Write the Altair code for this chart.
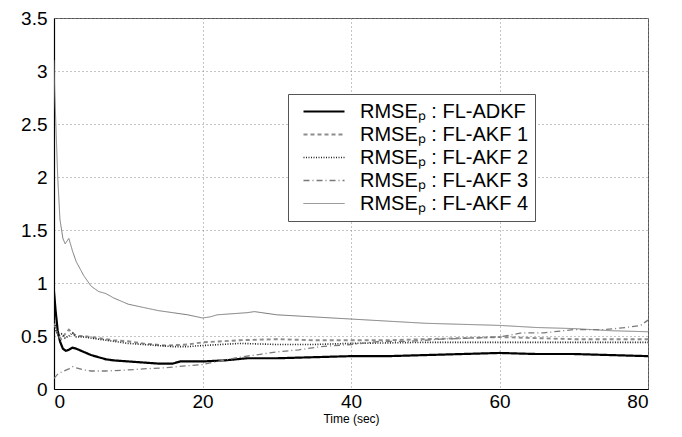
import altair as alt
import pandas as pd

series_names = ["RMSEₚ : FL-ADKF", "RMSEₚ : FL-AKF 1", "RMSEₚ : FL-AKF 2",
                "RMSEₚ : FL-AKF 3", "RMSEₚ : FL-AKF 4"]

t_adkf = [0, 0.2, 0.5, 0.8, 1.2, 1.6, 2.0, 2.5, 3, 4, 5, 6, 7, 8, 10, 12, 14, 16, 17, 18,
          20, 23, 26, 30, 35, 40, 45, 50, 55, 60, 65, 70, 75, 80]
v_adkf = [0.92, 0.75, 0.55, 0.45, 0.38, 0.36, 0.37, 0.39, 0.38, 0.35, 0.32, 0.30, 0.28, 0.27,
          0.26, 0.25, 0.24, 0.24, 0.26, 0.26, 0.26, 0.27, 0.29, 0.29, 0.30, 0.31, 0.31, 0.32,
          0.33, 0.34, 0.33, 0.33, 0.32, 0.31]

t_akf1 = [0, 0.3, 0.6, 1, 1.5, 2, 2.5, 3, 4, 5, 6, 8, 10, 12, 15, 18, 20, 25, 30, 35, 40,
          45, 50, 55, 60, 65, 70, 75, 80]
v_akf1 = [0.62, 0.55, 0.50, 0.47, 0.52, 0.56, 0.53, 0.50, 0.50, 0.49, 0.48, 0.46, 0.45, 0.43,
          0.41, 0.42, 0.44, 0.46, 0.47, 0.46, 0.46, 0.46, 0.47, 0.48, 0.49, 0.48, 0.47, 0.47, 0.47]

t_akf2 = [0, 0.3, 0.6, 1, 1.5, 2, 2.5, 3, 4, 5, 6, 8, 10, 12, 14, 16, 18, 20, 25, 30, 35,
          40, 50, 60, 70, 80]
v_akf2 = [0.65, 0.55, 0.50, 0.52, 0.48, 0.50, 0.53, 0.49, 0.49, 0.48, 0.47, 0.45, 0.43, 0.42,
          0.41, 0.40, 0.40, 0.41, 0.43, 0.42, 0.42, 0.43, 0.44, 0.44, 0.44, 0.44]

t_akf3 = [0, 0.5, 1, 2, 2.5, 3, 4, 5, 7, 10, 12, 15, 18, 20, 22, 25, 28, 30, 33, 36, 40, 44,
          48, 52, 56, 60, 63, 66, 70, 74, 77, 79, 80]
v_akf3 = [0.10, 0.14, 0.16, 0.19, 0.21, 0.20, 0.18, 0.17, 0.17, 0.18, 0.19, 0.20, 0.22, 0.23,
          0.26, 0.30, 0.33, 0.35, 0.37, 0.40, 0.42, 0.45, 0.45, 0.47, 0.48, 0.49, 0.53, 0.53,
          0.56, 0.56, 0.58, 0.60, 0.65]

t_akf4 = [0, 0.1, 0.3, 0.5, 0.8, 1.2, 1.5, 2.0, 2.5, 3, 4, 5, 6, 7, 8, 9, 10, 12, 14, 16, 18,
          20, 21, 22, 24, 26, 27, 28, 30, 35, 40, 45, 50, 55, 60, 65, 70, 75, 80]
v_akf4 = [3.10, 2.80, 2.40, 2.00, 1.60, 1.42, 1.37, 1.42, 1.30, 1.20, 1.07, 0.97, 0.92, 0.90,
          0.86, 0.83, 0.80, 0.77, 0.74, 0.72, 0.70, 0.67, 0.68, 0.70, 0.71, 0.72, 0.73, 0.72,
          0.70, 0.68, 0.66, 0.64, 0.62, 0.61, 0.60, 0.58, 0.57, 0.55, 0.54]

x_ticks = [0, 20, 40, 60, 80]
y_ticks = [0, 0.5, 1, 1.5, 2, 2.5, 3, 3.5]

rows = []
for name, ts, vs in zip(series_names,
                        [t_adkf, t_akf1, t_akf2, t_akf3, t_akf4],
                        [v_adkf, v_akf1, v_akf2, v_akf3, v_akf4]):
    for i, (t, v) in enumerate(zip(ts, vs)):
        rows.append({"series": name, "t": t, "v": v, "i": i})
df = pd.DataFrame(rows)

colors = ["#000000", "#8c8c8c", "#222222", "#7a7a7a", "#7a7a7a"]
dashes = [[1, 0], [4, 3], [1, 1.5], [6, 3, 1, 3], [1, 0]]
widths = [2.2, 1, 1.3, 1, 1]

FONT = "Liberation Sans"

leg = alt.Legend(orient="none", legendX=234, legendY=76, title=None,
                 strokeColor="#555555", fillColor="white", padding=6,
                 symbolType="stroke", symbolSize=1681, symbolOffset=8,
                 clipHeight=23, rowPadding=0, labelOffset=14,
                 labelFont=FONT, labelFontSize=20, labelColor="black",
                 labelLimit=320)

chart = alt.Chart(df).mark_line(clip=True).encode(
    x=alt.X("t:Q", scale=alt.Scale(domain=[0, 80], nice=False),
            axis=alt.Axis(values=x_ticks, title="Time (sec)", format="d")),
    y=alt.Y("v:Q", scale=alt.Scale(domain=[0, 3.5], nice=False),
            axis=alt.Axis(values=y_ticks, title=None, format="~g")),
    color=alt.Color("series:N", scale=alt.Scale(domain=series_names, range=colors), legend=leg),
    strokeDash=alt.StrokeDash("series:N", scale=alt.Scale(domain=series_names, range=dashes), legend=leg),
    strokeWidth=alt.StrokeWidth("series:N", scale=alt.Scale(domain=series_names, range=widths), legend=leg),
    order="i:Q",
).properties(
    width=594, height=371,
    autosize=alt.AutoSizeParams(type="none"),
    padding={"left": 46, "top": 10, "right": 26, "bottom": 40},
).configure_view(
    stroke="#555555", strokeWidth=1
).configure_axis(
    grid=True, gridColor="#8a8a8a", gridDash=[1, 3], gridWidth=1,
    domainColor="#000000", domainWidth=1.2, ticks=False,
    labelFont=FONT, labelFontSize=19, labelColor="black", labelPadding=7,
    titleFont=FONT, titleFontSize=12, titleFontWeight="normal", titleColor="black",
    titlePadding=2,
).configure_axisX(labelPadding=3)

chart.save("out.html", embed_options={"renderer": "svg", "actions": False})
